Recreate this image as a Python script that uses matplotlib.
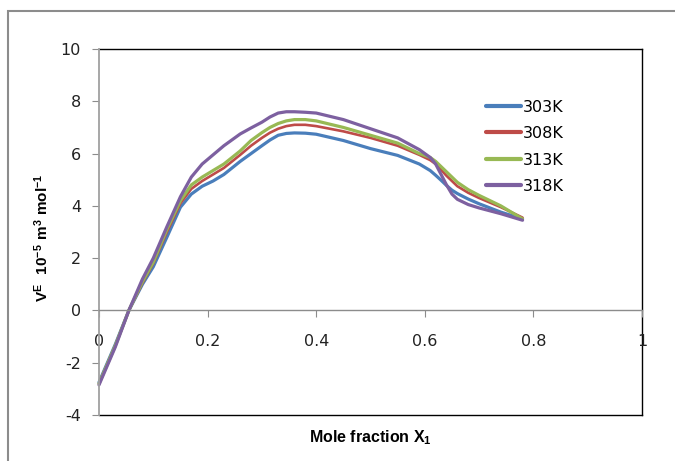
import matplotlib
matplotlib.use("Agg")
import matplotlib.pyplot as plt
from matplotlib.patches import Rectangle
from matplotlib.lines import Line2D

plt.rcParams['mathtext.fontset'] = 'custom'
plt.rcParams['mathtext.rm'] = 'Liberation Sans'
plt.rcParams['mathtext.bf'] = 'Liberation Sans:bold'
plt.rcParams['axes.unicode_minus'] = False

x = [0, 0.03, 0.055, 0.08, 0.1, 0.125, 0.15, 0.17, 0.19, 0.21, 0.23, 0.26, 0.28, 0.3,
     0.315, 0.33, 0.345, 0.36, 0.38, 0.4, 0.45, 0.5, 0.55, 0.59, 0.61, 0.62, 0.63, 0.64,
     0.65, 0.66, 0.68, 0.7, 0.74, 0.78]
v303 = [-2.75, -1.3, 0, 1.0, 1.67, 2.8, 3.95, 4.45, 4.75, 4.95, 5.2, 5.7, 6.0, 6.3,
        6.52, 6.7, 6.77, 6.79, 6.78, 6.74, 6.5, 6.19, 5.93, 5.6, 5.35, 5.17, 4.98, 4.78,
        4.6, 4.47, 4.26, 4.08, 3.76, 3.5]
v308 = [-2.8, -1.35, 0, 1.05, 1.8, 3.0, 4.1, 4.65, 4.95, 5.2, 5.45, 5.95, 6.3, 6.6,
        6.8, 6.95, 7.05, 7.1, 7.1, 7.05, 6.85, 6.6, 6.3, 5.95, 5.75, 5.6, 5.38, 5.15,
        4.95, 4.75, 4.5, 4.3, 3.95, 3.55]
v313 = [-2.8, -1.35, 0, 1.1, 1.85, 3.1, 4.2, 4.8, 5.1, 5.35, 5.6, 6.1, 6.5, 6.8,
        7.0, 7.15, 7.25, 7.3, 7.3, 7.25, 7.0, 6.7, 6.4, 6.0, 5.85, 5.7, 5.5, 5.3,
        5.1, 4.9, 4.62, 4.4, 4.0, 3.5]
v318 = [-2.85, -1.4, 0, 1.2, 2.0, 3.2, 4.35, 5.1, 5.6, 5.95, 6.3, 6.75, 6.98, 7.2,
        7.4, 7.55, 7.6, 7.6, 7.58, 7.55, 7.3, 6.95, 6.6, 6.15, 5.85, 5.6, 5.2, 4.8,
        4.45, 4.25, 4.05, 3.92, 3.7, 3.45]
labels = ['303K', '308K', '313K', '318K']
colors = ['#4A7EBB', '#BE4B48', '#98B954', '#7D60A0']
series = [v303, v308, v313, v318]
xticks = [0, 0.2, 0.4, 0.6, 0.8, 1]
xticklabels = ['0', '0.2', '0.4', '0.6', '0.8', '1']
yticks = [-4, -2, 0, 2, 4, 6, 8, 10]

tickfont = ['DejaVu Sans']

fig = plt.figure(figsize=(6.75, 4.61), dpi=100)
fig.patches.append(Rectangle((8/675, -0.1), 1.2, 1 - 11/461 + 0.1, transform=fig.transFigure,
                             fill=False, edgecolor='#8c8c8c', linewidth=1.5))
ax = fig.add_axes([99/675, 1 - 415/461, 543/675, 366/461])

lws = [2.3, 1.9, 2.3, 2.3]
for s, c, l, lw in zip(series, colors, labels, lws):
    ax.plot(x, s, color=c, lw=lw, label=l, solid_capstyle='round', solid_joinstyle='round',
            clip_on=False)

ax.set_xlim(0, 1)
ax.set_ylim(-4, 10)
ax.set_xticks(xticks)
ax.set_xticklabels(xticklabels)
ax.set_yticks(yticks)

for sp in ['top', 'right']:
    ax.spines[sp].set_visible(False)
ax.spines['bottom'].set_position(('data', 0))
ax.spines['bottom'].set_color('#8c8c8c')
ax.spines['left'].set_color('#a0a0a0')
ax.spines['left'].set_linewidth(1.3)
ax.spines['bottom'].set_linewidth(1.0)
for xs, ys in [([0, 1], [1, 1]), ([1, 1], [0, 1]), ([0, 1], [0, 0])]:
    ax.add_line(Line2D(xs, ys, transform=ax.transAxes, color='black', lw=1.0, clip_on=False, zorder=1))

ax.tick_params(axis='x', direction='out', length=5, color='#8c8c8c', pad=12)
ax.tick_params(axis='y', direction='out', length=5, color='#8c8c8c', pad=8)
for t in ax.get_xticklabels() + ax.get_yticklabels():
    t.set_fontfamily(tickfont)
    t.set_fontsize(11.5)
    t.set_color('#222222')

leg = ax.legend(loc='upper left', bbox_to_anchor=(0.712, 0.862), frameon=False,
                prop={'family': tickfont, 'size': 11.5}, handlelength=2.2,
                handletextpad=0.1, labelspacing=0.72, borderpad=0, borderaxespad=0)
for h in leg.get_lines():
    h.set_linewidth(3)

fig.text(370/675, 1 - 438/461, r'Mole fraction X$_{\mathbf{1}}$', ha='center', va='center',
         fontsize=11.5, fontweight='bold', family='Liberation Sans')
fig.text(42/675, 1 - 238/461, r'$\mathbf{V^{E}\ \ 10^{-5}\ m^{3}\ mol^{-1}}$', rotation=90,
         ha='center', va='center', fontsize=11)

fig.savefig('out.png', dpi=100)
